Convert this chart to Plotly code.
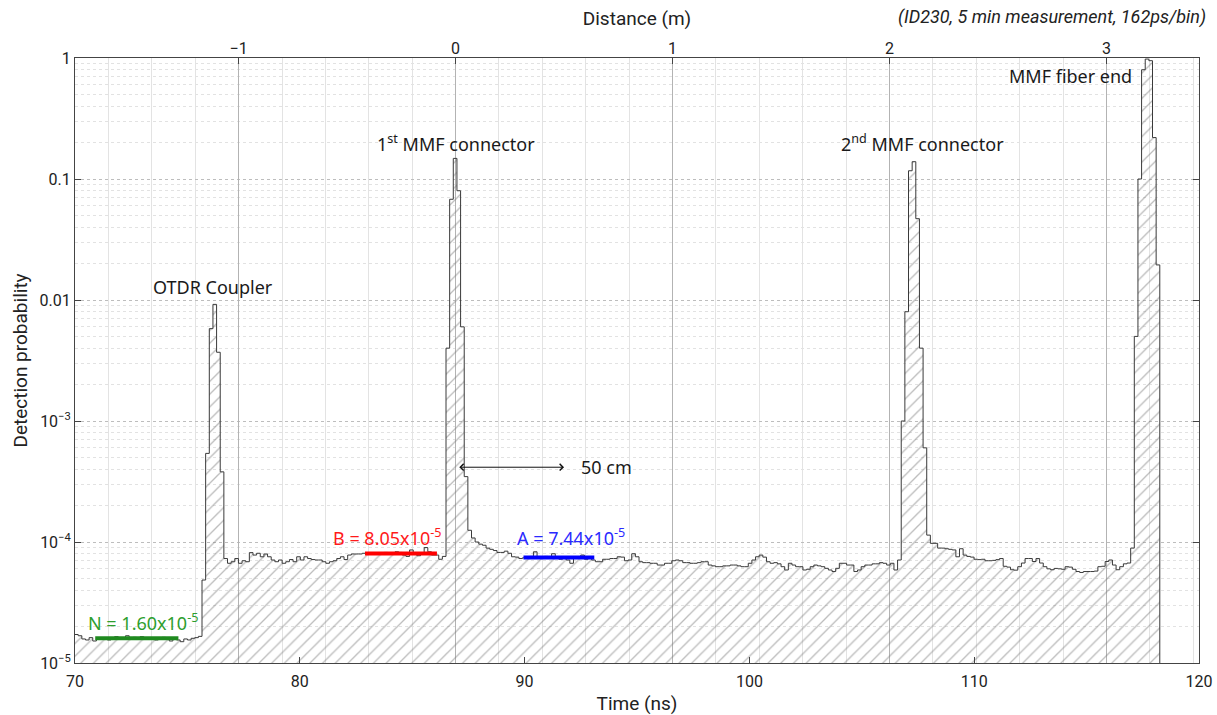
import numpy as np
import plotly.graph_objects as go

# ---------------- data ----------------
BIN_NS = 0.162          # 162 ps / bin
T_START = 69.98         # left edge of first bin (ns)
T_ZERO = 86.93          # time (ns) at distance 0 m
NS_PER_M = 9.65         # round-trip ns per metre of fibre

noise_floor = [1.72e-5, 1.68e-5, 1.58e-5, 1.55e-5, 1.62e-5, 1.52e-5, 1.60e-5, 1.57e-5, 1.62e-5, 1.55e-5,
               1.60e-5, 1.65e-5, 1.58e-5, 1.62e-5, 1.68e-5, 1.60e-5, 1.63e-5, 1.57e-5, 1.65e-5, 1.60e-5,
               1.58e-5, 1.62e-5, 1.55e-5, 1.60e-5, 1.63e-5, 1.57e-5, 1.52e-5, 1.60e-5, 1.55e-5, 1.50e-5,
               1.58e-5, 1.55e-5, 1.60e-5, 1.62e-5, 1.66e-5]
coupler_peak = [4.85e-5, 5.4e-4, 5.8e-3, 9.2e-3, 3.7e-3, 3.8e-4]
baseline_1 = [7.30e-5, 6.67e-5, 6.87e-5, 7.30e-5, 6.67e-5, 7.00e-5, 6.87e-5, 8.17e-5, 7.80e-5, 8.07e-5,
              7.55e-5, 7.96e-5, 7.55e-5, 7.10e-5, 6.87e-5, 7.10e-5, 6.67e-5, 6.87e-5, 7.16e-5, 6.87e-5,
              7.55e-5, 7.10e-5, 7.55e-5, 7.30e-5, 7.16e-5, 7.10e-5, 7.10e-5, 6.87e-5, 6.67e-5, 6.87e-5,
              7.00e-5, 7.30e-5, 7.55e-5, 7.16e-5, 7.80e-5, 7.96e-5, 7.96e-5, 7.96e-5, 8.07e-5, 8.10e-5,
              8.00e-5, 8.15e-5, 7.90e-5, 8.05e-5, 8.20e-5, 7.95e-5, 8.10e-5, 8.30e-5, 8.20e-5, 7.80e-5,
              7.60e-5, 8.60e-5, 7.90e-5, 7.70e-5, 8.00e-5, 9.00e-5, 8.30e-5, 7.80e-5, 7.80e-5, 7.20e-5]
connector1_peak = [7.6e-5, 4.0e-3, 6.8e-2, 0.148, 8.0e-2, 6.0e-3, 3.47e-4]
baseline_2 = [1.25e-4, 1.08e-4, 1.00e-4, 9.60e-5, 9.40e-5, 8.90e-5, 8.70e-5, 8.50e-5, 8.20e-5, 8.20e-5,
              8.40e-5, 8.07e-5, 7.55e-5, 7.50e-5, 7.30e-5, 7.40e-5, 7.55e-5, 7.60e-5, 8.30e-5, 7.50e-5,
              7.30e-5, 7.60e-5, 7.50e-5, 8.00e-5, 7.30e-5, 7.20e-5, 7.50e-5, 7.10e-5, 6.67e-5, 7.30e-5,
              7.55e-5, 7.80e-5, 7.20e-5, 7.30e-5, 7.10e-5, 6.87e-5, 6.87e-5, 7.20e-5, 7.20e-5, 7.30e-5,
              7.30e-5, 7.55e-5, 7.50e-5, 7.00e-5, 7.10e-5, 8.00e-5, 7.55e-5, 6.87e-5, 6.75e-5, 6.75e-5,
              6.67e-5, 6.67e-5, 6.45e-5, 6.45e-5, 6.67e-5, 6.67e-5, 7.00e-5, 7.10e-5, 7.00e-5, 6.75e-5,
              6.75e-5, 6.67e-5, 6.67e-5, 6.75e-5, 6.87e-5, 6.87e-5, 6.45e-5, 6.35e-5, 6.25e-5, 6.25e-5,
              6.35e-5, 6.35e-5, 6.45e-5, 6.45e-5, 6.35e-5, 6.25e-5, 6.25e-5, 6.67e-5, 7.10e-5, 7.55e-5,
              7.80e-5, 7.50e-5, 6.87e-5, 6.67e-5, 6.75e-5, 6.60e-5, 6.25e-5, 5.87e-5, 6.67e-5, 6.45e-5,
              6.25e-5, 6.25e-5, 5.87e-5, 5.95e-5, 6.25e-5, 6.45e-5, 6.35e-5, 6.25e-5, 6.06e-5, 5.87e-5,
              5.70e-5, 6.06e-5, 6.67e-5, 6.67e-5, 6.45e-5, 6.45e-5, 5.70e-5, 5.87e-5, 6.25e-5, 6.45e-5,
              6.45e-5, 6.60e-5, 6.60e-5, 6.75e-5, 6.67e-5, 6.45e-5, 6.67e-5, 5.87e-5, 7.10e-5]
connector2_peak = [1.0e-3, 8.0e-3, 0.117, 0.139, 4.7e-2, 4.0e-3, 6.0e-4, 1.14e-4]
baseline_3 = [9.75e-5, 9.75e-5, 8.90e-5, 8.90e-5, 8.80e-5, 8.70e-5, 8.60e-5, 7.55e-5, 8.80e-5, 7.80e-5,
              7.60e-5, 7.50e-5, 7.20e-5, 7.15e-5, 7.20e-5, 7.00e-5, 7.00e-5, 7.05e-5, 7.15e-5, 7.30e-5,
              6.30e-5, 6.20e-5, 5.90e-5, 5.85e-5, 6.25e-5, 6.70e-5, 7.30e-5, 7.30e-5, 6.90e-5, 7.30e-5,
              6.70e-5, 6.25e-5, 6.00e-5, 5.90e-5, 6.05e-5, 6.00e-5, 5.95e-5, 6.25e-5, 6.20e-5, 5.95e-5,
              5.70e-5, 5.60e-5, 5.70e-5, 5.70e-5, 5.70e-5, 5.75e-5, 6.25e-5, 6.30e-5, 6.90e-5, 7.10e-5,
              6.45e-5, 5.90e-5, 6.25e-5, 6.60e-5, 6.70e-5]
fiber_end_peak = [8.9e-5, 5.0e-3, 0.10, 0.80, 0.98, 0.95, 0.22, 1.95e-2]

level_names = ["N", "B", "A"]
level_values = [1.60e-5, 8.05e-5, 7.44e-5]
level_t_start = [70.9, 82.9, 89.95]
level_t_end = [74.6, 86.1, 93.1]
level_colors = ["#1f8a1f", "#ff0000", "#0000ff"]
level_text_colors = ["#2e9e2e", "#ff1a1a", "#2a2aff"]

time_ticks = [70, 80, 90, 100, 110, 120]
dist_ticks = [-1, 0, 1, 2, 3]
y_ticks = [1e-5, 1e-4, 1e-3, 1e-2, 1e-1, 1]
y_ticktext = ["10<sup>−5</sup>", "10<sup>−4</sup>", "10<sup>−3</sup>", "0.01", "0.1", "1"]

arrow_dist = [0.01, 0.50]   # metres spanned by the "50 cm" arrow

# ---------------- build ----------------
prob = np.array(noise_floor + coupler_peak + baseline_1 + connector1_peak +
                baseline_2 + connector2_peak + baseline_3 + fiber_end_peak)
edges = T_START + BIN_NS * np.arange(len(prob) + 1)

x_step = np.append(edges, edges[-1])
y_step = np.append(np.append(prob, prob[-1]), 1e-7)

t_min, t_max = 70, 120
d_range = [(t_min - T_ZERO) / NS_PER_M, (t_max - T_ZERO) / NS_PER_M]

fig = go.Figure()

fig.add_trace(go.Scatter(
    x=x_step, y=y_step, mode="lines", line_shape="hv",
    line=dict(color="#3a3a3a", width=1),
    fill="tozeroy", fillcolor="rgba(0,0,0,0)",
    fillpattern=dict(shape="/", fgcolor="#7c7c7c", bgcolor="rgba(255,255,255,0)",
                     size=9, solidity=0.15),
    hoverinfo="skip", showlegend=False))

# invisible copy in distance units so the top axis is drawn
fig.add_trace(go.Scatter(
    x=(x_step - T_ZERO) / NS_PER_M, y=y_step, xaxis="x2", mode="lines",
    line=dict(width=0), opacity=0, hoverinfo="skip", showlegend=False))

for name, val, t0, t1, col in zip(level_names, level_values, level_t_start, level_t_end, level_colors):
    fig.add_trace(go.Scatter(x=[t0, t1], y=[val, val], mode="lines",
                             line=dict(color=col, width=4), hoverinfo="skip", showlegend=False))

ann_font = dict(family="Noto Sans", size=18, color="#1a1a1a")
annotations = [
    dict(x=76.15, y=np.log10(1.28e-2), text="OTDR Coupler", xref="x", yref="y",
         showarrow=False, font=ann_font),
    dict(x=86.97, y=np.log10(0.199), text="1<sup>st</sup> MMF connector", xref="x", yref="y",
         showarrow=False, font=ann_font),
    dict(x=107.68, y=np.log10(0.199), text="2<sup>nd</sup> MMF connector", xref="x", yref="y",
         showarrow=False, font=ann_font),
    dict(x=117.1, y=np.log10(0.71), text="MMF fiber end", xref="x", yref="y", xanchor="right",
         showarrow=False, font=ann_font),
    dict(x=arrow_dist[1], y=np.log10(4.15e-4), ax=arrow_dist[0], ay=np.log10(4.15e-4),
         xref="x2", yref="y", axref="x2", ayref="y", text="", showarrow=True,
         arrowside="end+start", arrowhead=4, startarrowhead=4, arrowsize=1.3, startarrowsize=1.3,
         arrowwidth=1, arrowcolor="#111"),
    dict(x=arrow_dist[1] + 0.07, y=np.log10(4.15e-4), text="50 cm", xref="x2", yref="y",
         xanchor="left", showarrow=False, font=ann_font),
    dict(x=1.008, y=1.068, xref="paper", yref="paper", xanchor="right", yanchor="middle",
         text="<i>(ID230, 5 min measurement, 162ps/bin)</i>", showarrow=False,
         font=dict(family="Roboto", size=18, color="#222")),
]
label_pos = [(73.03, 2.19e-5), (83.9, 1.10e-4), (92.05, 1.10e-4)]
for name, val, col, (lx, ly) in zip(level_names, level_values, level_text_colors, label_pos):
    mant, ex = f"{val:.2e}".split("e")
    annotations.append(dict(x=lx, y=np.log10(ly), xref="x", yref="y", showarrow=False,
                            text=f"{name} = {mant}x10<sup>{int(ex)}</sup>",
                            font=dict(family="Noto Sans", size=18, color=col)))

minor_y = [m * 10.0 ** e for e in range(-5, 0) for m in range(2, 10)]

fig.update_layout(
    width=1217, height=715,
    margin=dict(l=75, r=18, t=58, b=52),
    plot_bgcolor="white", paper_bgcolor="white",
    showlegend=False,
    font=dict(family="Roboto", size=16, color="#222"),
    annotations=annotations,
    xaxis=dict(range=[t_min, t_max], tickvals=time_ticks, ticks="inside", ticklen=6,
               tickcolor="#444", showgrid=False, zeroline=False, showline=True,
               linecolor="#444", linewidth=1, mirror=True, automargin=False,
               ticklabelstandoff=4,
               title=dict(text="Time (ns)", standoff=8)),
    xaxis2=dict(overlaying="x", side="top", anchor="y", range=d_range, tickvals=dist_ticks,
                ticks="inside", ticklen=6, tickcolor="#444", showgrid=True,
                gridcolor="#b3b3b3", gridwidth=1, zeroline=False, automargin=False,
                minor=dict(dtick=0.2, tick0=0, showgrid=True, gridcolor="#e3e3e3", gridwidth=1),
                title=dict(text="Distance (m)", standoff=8)),
    yaxis=dict(type="log", range=[-5, 0], tickvals=y_ticks, ticktext=y_ticktext,
               ticks="inside", ticklen=6, tickcolor="#444", showline=True, linecolor="#444",
               mirror="ticks", gridcolor="#bdbdbd", griddash="dot", gridwidth=1, zeroline=False,
               automargin=False,
               minor=dict(tickvals=minor_y, showgrid=True, gridcolor="#e2e2e2", griddash="dot",
                          ticks=""),
               title=dict(text="Detection probability", standoff=6)),
)

fig.write_html("out.html", config={"displayModeBar": False},
               post_script="document.body.style.margin='0px';")
